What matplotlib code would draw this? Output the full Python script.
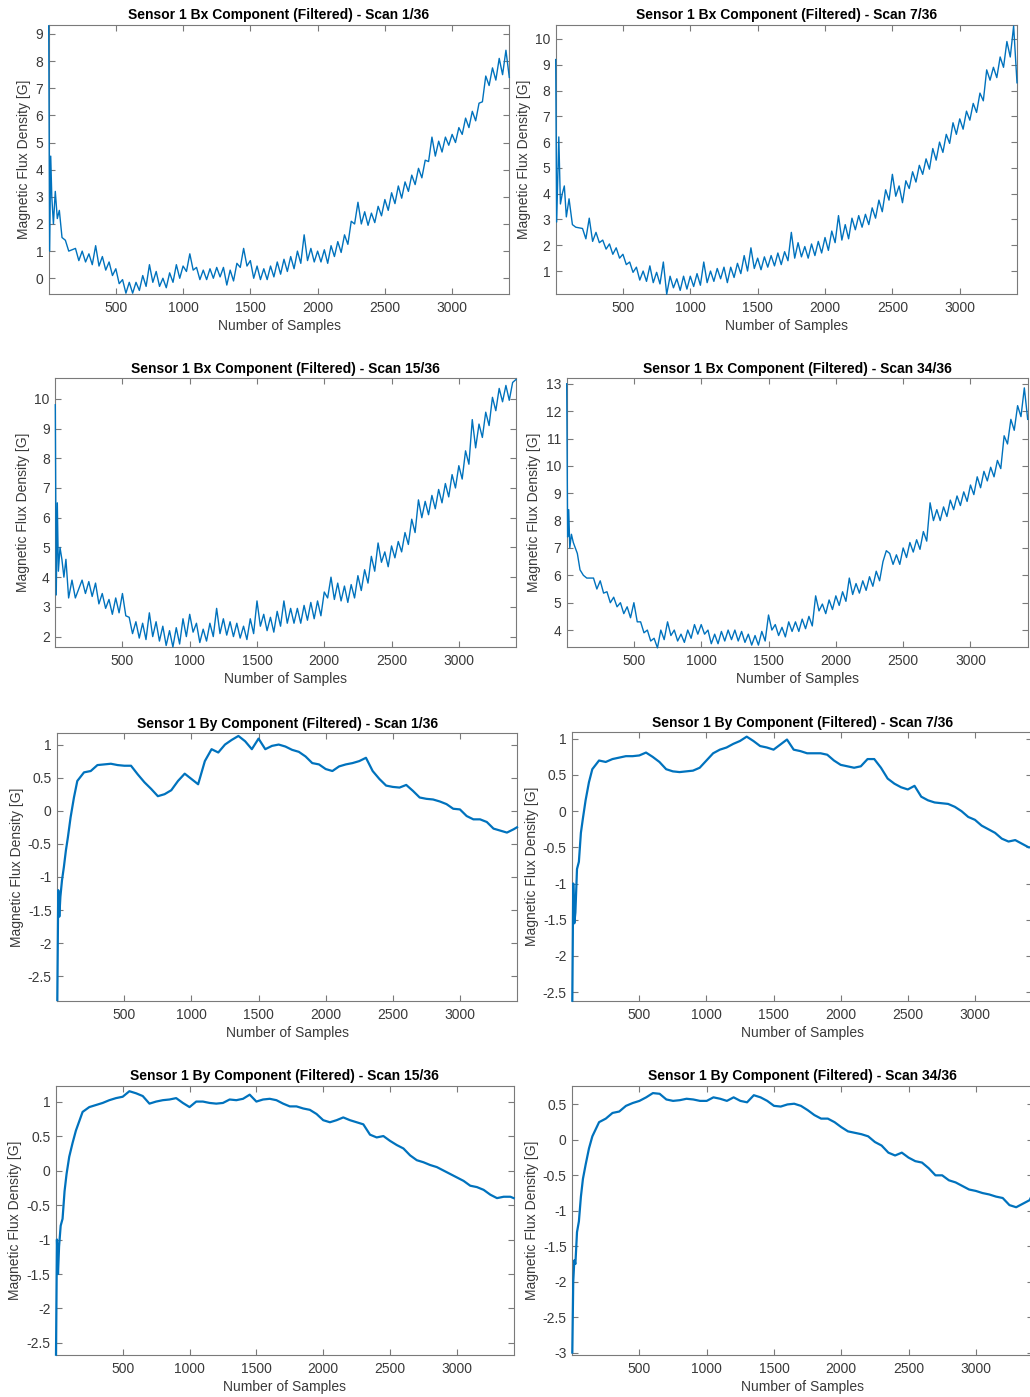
# Recreates the 8-panel Sensor 1 Bx / By filtered scan figure (MATLAB style)
import matplotlib
matplotlib.use("Agg")
import matplotlib.pyplot as plt
from matplotlib.ticker import MultipleLocator, FormatStrFormatter

plt.rcParams['font.family'] = ['Liberation Sans', 'DejaVu Sans']

# sample index at which the trace values below were read
EARLY = [1, 8, 16, 24, 36, 50, 65, 80, 100, 125, 150]
SAMPLES_BX = EARLY + list(range(200, 3401, 25)) + [3425]
SAMPLES_BY = EARLY + list(range(200, 3401, 50)) + [3425]

# Bx traces (noisy, read every 25 samples after the start-up transient)
BX_SCAN1 = [9.3, 1.0, 4.5, 3.0, 2.0, 3.2, 2.2, 2.5, 1.5, 1.4, 1.0,
            1.1, 0.65, 1.0, 0.6, 0.9, 0.5, 1.2, 0.45,
            0.8, 0.3, 0.6, 0.1, 0.35, -0.2, -0.05, -0.55,
            -0.15, -0.55, -0.15, -0.45, 0.1, -0.3, 0.5, -0.15,
            0.25, -0.3, 0.0, -0.35, 0.2, -0.15, 0.5, 0.0,
            0.45, 0.25, 0.9, 0.3, 0.4, -0.05, 0.3, -0.05,
            0.35, 0.0, 0.4, 0.05, 0.4, -0.25, 0.3, -0.1,
            0.55, 0.4, 1.1, 0.45, 0.65, 0.0, 0.45, -0.05,
            0.35, -0.05, 0.45, 0.05, 0.6, 0.15, 0.7, 0.25,
            0.8, 0.35, 1.0, 0.55, 1.6, 0.65, 1.1, 0.6,
            1.0, 0.6, 1.05, 0.55, 1.2, 0.8, 1.35, 0.95,
            1.6, 1.25, 2.1, 2.0, 2.8, 2.0, 2.45, 1.95,
            2.4, 2.05, 2.65, 2.3, 2.9, 2.5, 3.15, 2.75,
            3.4, 2.95, 3.55, 3.2, 3.8, 3.45, 4.05, 3.7,
            4.35, 4.3, 5.2, 4.5, 5.05, 4.65, 5.2, 4.9,
            5.3, 5.0, 5.55, 5.3, 5.9, 5.55, 6.15, 5.8,
            6.45, 6.5, 7.45, 7.1, 7.75, 7.3, 8.1, 7.5,
            8.4, 7.4]

BX_SCAN7 = [9.2, 2.9, 4.5, 6.2, 3.6, 4.0, 4.3, 3.1, 3.8, 2.8, 2.7,
            2.65, 2.25, 3.05, 2.15, 2.5, 2.1, 2.2, 1.85,
            2.05, 1.65, 1.9, 1.5, 1.65, 1.25, 1.35, 0.95,
            1.15, 0.65, 1.0, 0.6, 1.2, 0.55, 0.95, 0.5,
            1.35, 0.1, 0.8, 0.35, 0.7, 0.25, 0.8, 0.3,
            0.8, 0.4, 0.9, 0.45, 1.35, 0.55, 1.0, 0.6,
            1.1, 0.7, 1.15, 0.55, 1.15, 0.75, 1.3, 0.9,
            1.6, 1.0, 1.9, 1.1, 1.5, 1.05, 1.55, 1.15,
            1.6, 1.2, 1.7, 1.25, 1.75, 1.4, 2.5, 1.5,
            2.1, 1.55, 1.95, 1.5, 2.05, 1.6, 2.15, 1.7,
            2.3, 1.8, 2.55, 2.1, 3.15, 2.2, 2.8, 2.25,
            3.05, 2.6, 3.15, 2.7, 3.2, 2.8, 3.45, 3.05,
            3.75, 3.3, 4.15, 3.75, 4.75, 3.9, 4.3, 3.65,
            4.5, 4.2, 4.85, 4.45, 5.1, 4.75, 5.35, 4.95,
            5.75, 5.3, 6.0, 5.6, 6.3, 5.95, 6.75, 6.3,
            6.9, 6.5, 7.2, 6.85, 7.5, 7.15, 7.9, 7.6,
            8.8, 8.4, 8.9, 8.5, 9.3, 8.9, 9.9, 9.3,
            10.5, 8.3]

BX_SCAN15 = [9.8, 3.4, 6.5, 4.2, 5.0, 4.6, 4.0, 4.6, 3.3, 3.9, 3.3,
             3.9, 3.45, 3.85, 3.35, 3.8, 3.1, 3.45, 2.95,
             3.25, 2.75, 3.3, 2.8, 3.45, 2.7, 2.65, 2.1,
             2.5, 1.95, 2.45, 1.9, 2.8, 2.0, 2.5, 1.85,
             2.35, 1.7, 2.2, 1.65, 2.3, 1.75, 2.6, 2.0,
             2.75, 2.15, 2.45, 1.8, 2.25, 1.85, 2.45, 2.0,
             2.95, 2.1, 2.6, 2.05, 2.5, 2.0, 2.45, 1.95,
             2.35, 1.9, 2.6, 2.1, 3.2, 2.35, 2.75, 2.2,
             2.65, 2.15, 2.85, 2.35, 3.2, 2.45, 2.95, 2.45,
             2.95, 2.45, 3.05, 2.55, 3.15, 2.6, 3.2, 2.7,
             3.5, 3.3, 4.0, 3.25, 3.8, 3.2, 3.7, 3.15,
             3.75, 3.3, 4.05, 3.55, 4.25, 3.8, 4.7, 4.2,
             5.15, 4.5, 4.85, 4.35, 5.05, 4.65, 5.2, 4.85,
             5.5, 5.1, 5.95, 5.5, 6.6, 6.0, 6.55, 6.1,
             6.75, 6.3, 6.95, 6.5, 7.15, 6.7, 7.45, 7.0,
             7.75, 7.3, 8.25, 7.8, 9.3, 8.35, 9.15, 8.7,
             9.55, 9.1, 10.05, 9.6, 10.35, 9.9, 10.45, 9.95,
             10.55, 10.65]

BX_SCAN34 = [13.0, 7.4, 8.4, 7.0, 7.5, 7.2, 7.0, 6.8, 6.2, 6.0, 5.9,
             5.9, 5.5, 5.8, 5.35, 5.4, 5.0, 5.2, 4.85,
             5.0, 4.6, 4.85, 4.45, 5.0, 4.3, 4.3, 3.9,
             4.0, 3.6, 3.7, 3.35, 4.0, 3.65, 4.3, 3.8,
             4.0, 3.6, 3.85, 3.55, 4.0, 3.7, 4.2, 3.85,
             4.2, 3.85, 4.0, 3.5, 3.85, 3.5, 3.95, 3.6,
             4.0, 3.65, 4.0, 3.6, 3.95, 3.55, 3.85, 3.45,
             3.8, 3.45, 3.95, 3.6, 4.55, 4.0, 4.2, 3.8,
             4.1, 3.75, 4.3, 3.95, 4.3, 3.95, 4.4, 4.05,
             4.5, 4.15, 5.25, 4.7, 4.95, 4.6, 5.1, 4.75,
             5.25, 4.9, 5.4, 5.05, 5.9, 5.3, 5.7, 5.35,
             5.8, 5.45, 5.95, 5.6, 6.15, 5.8, 6.5, 6.9,
             6.8, 6.4, 6.75, 6.4, 7.0, 6.65, 7.2, 6.85,
             7.3, 6.95, 7.6, 7.25, 8.65, 8.0, 8.4, 8.0,
             8.5, 8.15, 8.75, 8.4, 8.9, 8.55, 9.05, 8.7,
             9.3, 8.95, 9.6, 9.2, 9.8, 9.45, 9.95, 9.6,
             10.2, 9.9, 11.1, 10.8, 11.7, 11.3, 12.2, 11.8,
             12.85, 11.7]

# By traces (smoother, read every 50 samples after the transient)
BY_SCAN1 = [-2.86, -1.2, -1.6, -1.3, -1.05, -0.85, -0.6, -0.4, -0.1, 0.2, 0.45,
            0.58, 0.6, 0.69, 0.7, 0.71, 0.69, 0.68, 0.68, 0.55, 0.43,
            0.33, 0.22, 0.25, 0.31, 0.45, 0.56, 0.48, 0.4, 0.75, 0.93,
            0.88, 1.0, 1.07, 1.13, 1.05, 0.93, 1.09, 0.93, 0.98, 1.0,
            0.97, 0.92, 0.89, 0.82, 0.72, 0.7, 0.63, 0.6, 0.67, 0.7,
            0.72, 0.75, 0.8, 0.6, 0.48, 0.38, 0.36, 0.35, 0.39, 0.3,
            0.2, 0.18, 0.17, 0.14, 0.1, 0.03, 0.02, -0.08, -0.13, -0.13,
            -0.17, -0.27, -0.3, -0.33, -0.28,
            -0.25]

BY_SCAN7 = [-2.62, -1.0, -1.55, -1.4, -0.8, -0.7, -0.3, -0.1, 0.15, 0.4, 0.58,
            0.7, 0.68, 0.72, 0.74, 0.76, 0.76, 0.77, 0.81, 0.75, 0.68,
            0.58, 0.55, 0.54, 0.55, 0.56, 0.6, 0.7, 0.8, 0.85, 0.88,
            0.93, 0.97, 1.03, 0.97, 0.9, 0.88, 0.85, 0.92, 0.99, 0.85,
            0.83, 0.8, 0.8, 0.8, 0.78, 0.7, 0.64, 0.62, 0.6, 0.62,
            0.72, 0.72, 0.6, 0.45, 0.38, 0.33, 0.3, 0.35, 0.2, 0.15,
            0.12, 0.11, 0.1, 0.06, 0.0, -0.08, -0.12, -0.2, -0.25, -0.3,
            -0.38, -0.42, -0.4, -0.45, -0.5,
            -0.5]

BY_SCAN15 = [-2.67, -1.0, -1.5, -1.1, -0.8, -0.7, -0.3, -0.05, 0.2, 0.4, 0.58,
             0.85, 0.92, 0.95, 0.98, 1.02, 1.05, 1.07, 1.15, 1.12, 1.08,
             0.97, 1.0, 1.02, 1.03, 1.05, 0.98, 0.92, 1.0, 1.0, 0.98,
             0.97, 0.98, 1.03, 1.02, 1.04, 1.1, 1.0, 1.03, 1.04, 1.02,
             0.97, 0.93, 0.93, 0.9, 0.88, 0.82, 0.73, 0.7, 0.73, 0.77,
             0.73, 0.7, 0.67, 0.52, 0.48, 0.5, 0.43, 0.37, 0.32, 0.22,
             0.15, 0.12, 0.08, 0.05, 0.0, -0.05, -0.1, -0.15, -0.22, -0.24,
             -0.28, -0.35, -0.4, -0.38, -0.38,
             -0.4]

BY_SCAN34 = [-3.0, -2.0, -1.7, -1.75, -1.3, -1.15, -0.8, -0.55, -0.35, -0.12, 0.05,
             0.25, 0.3, 0.38, 0.4, 0.48, 0.52, 0.55, 0.6, 0.66, 0.65,
             0.57, 0.55, 0.56, 0.58, 0.57, 0.55, 0.55, 0.6, 0.58, 0.55,
             0.6, 0.55, 0.53, 0.63, 0.6, 0.55, 0.48, 0.47, 0.5, 0.51,
             0.48, 0.42, 0.35, 0.3, 0.3, 0.25, 0.18, 0.12, 0.1, 0.08,
             0.05, -0.03, -0.08, -0.18, -0.22, -0.18, -0.25, -0.3, -0.32, -0.4,
             -0.5, -0.5, -0.57, -0.6, -0.65, -0.7, -0.72, -0.75, -0.77, -0.8,
             -0.82, -0.92, -0.95, -0.9, -0.85,
             -0.75]

TITLES = ['Sensor 1 Bx Component (Filtered) - Scan 1/36',
          'Sensor 1 Bx Component (Filtered) - Scan 7/36',
          'Sensor 1 Bx Component (Filtered) - Scan 15/36',
          'Sensor 1 Bx Component (Filtered) - Scan 34/36',
          'Sensor 1 By Component (Filtered) - Scan 1/36',
          'Sensor 1 By Component (Filtered) - Scan 7/36',
          'Sensor 1 By Component (Filtered) - Scan 15/36',
          'Sensor 1 By Component (Filtered) - Scan 34/36']
SERIES = [BX_SCAN1, BX_SCAN7, BX_SCAN15, BX_SCAN34,
          BY_SCAN1, BY_SCAN7, BY_SCAN15, BY_SCAN34]

# layout: axes boxes in pixels (left, right, top, bottom), y limits, y tick step
BOXES = [(48.7, 509.3, 25, 294), (555.7, 1017, 25, 294),
         (55.3, 516, 378.3, 647.3), (566.7, 1027.7, 378.3, 647.3),
         (57.3, 517, 733.3, 1000.7), (572.3, 1032, 732.3, 1000.7),
         (56, 513.7, 1085.7, 1354.7), (572.3, 1033, 1086, 1354.7)]
YLIMS = [(-0.58, 9.33), (0.11, 10.54), (1.64, 10.69), (3.37, 13.2),
         (-2.87, 1.17), (-2.62, 1.09), (-2.67, 1.23), (-3.03, 0.76)]
YSTEPS = [1, 1, 1, 1, 0.5, 0.5, 0.5, 0.5]

W, H = 1030, 1397
LINE = '#0072BD'
AXC = '#7a7a7a'
TXT = '#3a3a3a'

fig = plt.figure(figsize=(W / 100, H / 100), dpi=100)

for i in range(8):
    l, r, t, b = BOXES[i]
    ax = fig.add_axes([l / W, 1 - b / H, (r - l) / W, (b - t) / H])
    # line drawn over the box, unclipped, so the start-up spike shows on the spine
    if i < 4:
        ax.plot(SAMPLES_BX, SERIES[i], color=LINE, lw=1.0, zorder=3, clip_on=False)
    else:
        ax.plot(SAMPLES_BY, SERIES[i], color=LINE, lw=1.6, zorder=3, clip_on=False)
    ax.set_xlim(1, 3425)
    ax.set_ylim(*YLIMS[i])
    ax.xaxis.set_major_locator(MultipleLocator(500))
    ax.yaxis.set_major_locator(MultipleLocator(YSTEPS[i]))
    ax.yaxis.set_major_formatter(FormatStrFormatter('%g'))
    ax.tick_params(direction='in', length=4, width=0.8, top=True, right=True,
                   color=AXC, labelcolor=TXT, labelsize=10)
    ax.tick_params(axis='x', pad=5)
    ax.tick_params(axis='y', pad=4)
    for s in ax.spines.values():
        s.set_color(AXC)
        s.set_linewidth(0.8)
    ax.set_title(TITLES[i], fontsize=10, fontweight='bold', color='black', pad=4)
    ax.set_xlabel('Number of Samples', fontsize=10, color=TXT, labelpad=3)
    ax.set_ylabel('Magnetic Flux Density [G]', fontsize=10, color=TXT, labelpad=3)

fig.savefig('out.png', dpi=100)
